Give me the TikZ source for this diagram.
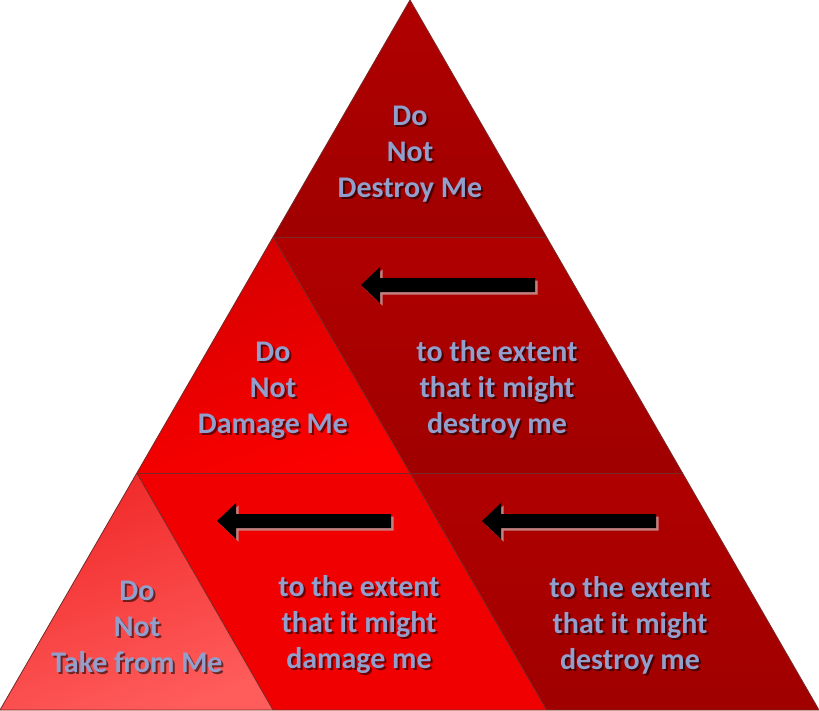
\documentclass[tikz,border=0pt]{standalone}
\usepackage{fontspec}
\setmainfont{Carlito}
\definecolor{darkred1}{RGB}{176,0,0}
\definecolor{darkred2}{RGB}{160,0,0}
\definecolor{midred1}{RGB}{212,0,0}
\definecolor{midred2}{RGB}{252,0,0}
\definecolor{brightred}{RGB}{240,0,0}
\definecolor{lightred1}{RGB}{240,40,40}
\definecolor{lightred2}{RGB}{255,92,92}
\definecolor{edgecol}{RGB}{120,40,40}
\definecolor{txtcol}{RGB}{146,158,204}
\definecolor{arrshadow}{RGB}{196,128,128}
\newcommand{\lbl}[3]{%
  \node[lblshadow] at (#1) {#3};
  \node[lbl] (#2) at (#1) {#3};}
\newcommand{\leftarr}[2]{%
  \begin{scope}[shift={(#1+2.5,#2+2.5)}]
    \fill[arrshadow] (0,0) -- (19,-18) -- (19,-7) -- (174,-7) -- (174,7) -- (19,7) -- (19,18) -- cycle;
  \end{scope}
  \begin{scope}[shift={(#1,#2)}]
    \fill[black] (0,0) -- (19,-18) -- (19,-7) -- (174,-7) -- (174,7) -- (19,7) -- (19,18) -- cycle;
  \end{scope}}
\begin{document}
\begin{tikzpicture}[x=1pt,y=-1pt,
  lbl/.style={align=center, text=txtcol, inner sep=0pt,
    font=\bfseries\fontsize{30}{36}\selectfont},
  lblshadow/.style={lbl, text=black, opacity=0.55, xshift=2pt, yshift=-2pt},
  edge/.style={draw=edgecol, line width=0.8pt}]
\useasboundingbox (0,0) rectangle (819,710);
\coordinate (A) at (410,0);
\coordinate (L1) at (273,237);
\coordinate (R1) at (546.5,237);
\coordinate (L2) at (136.8,473);
\coordinate (M2) at (410,473);
\coordinate (R2) at (682.5,473);
\coordinate (L3) at (0,710);
\coordinate (M3a) at (273,710);
\coordinate (M3b) at (546.5,710);
\coordinate (R3) at (819,710);
% regions
\shade[top color=darkred1, bottom color=darkred2] (A) -- (L1) -- (R1) -- cycle;
\shade[top color=darkred1, bottom color=darkred2] (L1) -- (R1) -- (R2) -- (M2) -- cycle;
\shade[top color=midred1, bottom color=midred2, shading angle=20] (L1) -- (L2) -- (M2) -- cycle;
\shade[top color=darkred1, bottom color=darkred2] (M2) -- (R2) -- (R3) -- (M3b) -- cycle;
\fill[brightred] (L2) -- (M2) -- (M3b) -- (M3a) -- cycle;
\shade[top color=lightred1, bottom color=lightred2, shading angle=20] (L2) -- (L3) -- (M3a) -- cycle;
% edges
\draw[edge] (A) -- (L3) -- (R3) -- cycle;
\draw[edge] (L1) -- (R1);
\draw[edge] (L2) -- (R2);
\draw[edge] (L1) -- (M2);
\draw[edge] (L2) -- (M3a);
\draw[edge] (M2) -- (M3b);
% arrows
\leftarr{361}{285}
\leftarr{217}{521}
\leftarr{482}{521}
% labels
\lbl{410,154}{t1}{Do\\Not\\Destroy Me}
\lbl{273,390}{t2}{Do\\Not\\Damage Me}
\lbl{497,389}{t3}{to the extent\\that it might\\destroy me}
\lbl{137,627}{t4}{Do\\Not\\Take from Me}
\lbl{359,625}{t5}{to the extent\\that it might\\damage me}
\lbl{630,625}{t6}{to the extent\\that it might\\destroy me}
\end{tikzpicture}
\end{document}
